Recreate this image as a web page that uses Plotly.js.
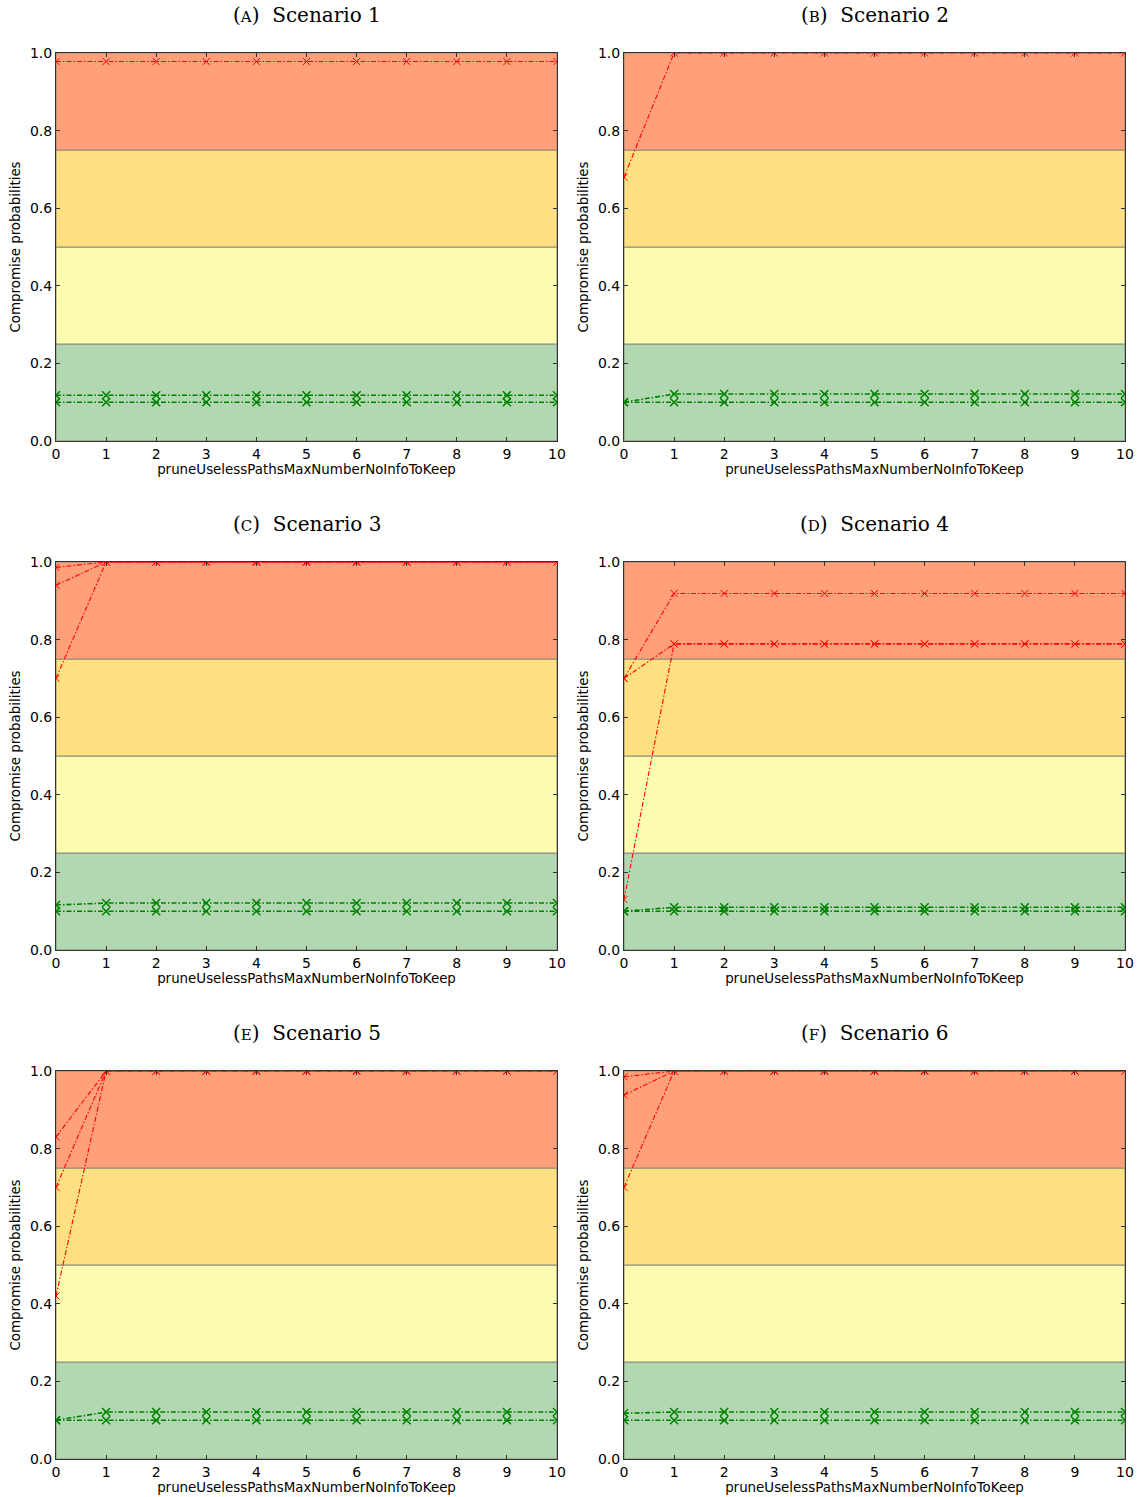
<!DOCTYPE html>
<html>
<head>
<meta charset="utf-8">
<script src="https://cdn.plot.ly/plotly-3.0.1.min.js"></script>
<style>html,body{margin:0;padding:0;background:#fff;}</style>
</head>
<body>
<div id="chart" style="width:1143px;height:1497px;"></div>
<script>
// ---- data ----
const xValues = [0, 1, 2, 3, 4, 5, 6, 7, 8, 9, 10];
const xTickLabels = ["0", "1", "2", "3", "4", "5", "6", "7", "8", "9", "10"];
const yTickValues = [0, 0.2, 0.4, 0.6, 0.8, 1.0];
const yTickLabels = ["0.0", "0.2", "0.4", "0.6", "0.8", "1.0"];
const bandEdges = [0, 0.25, 0.5, 0.75, 1.0];
const bandColors = ["#b2d8b2", "#fcfcb0", "#fee082", "#ffa07a"];
const panelLetters = ["A", "B", "C", "D", "E", "F"];
const panelNames = ["Scenario 1", "Scenario 2", "Scenario 3", "Scenario 4", "Scenario 5", "Scenario 6"];

// Scenario 1
const s1Red1   = [0.978, 0.978, 0.978, 0.978, 0.978, 0.978, 0.978, 0.978, 0.978, 0.978, 0.978];
const s1Green1 = [0.118, 0.118, 0.118, 0.118, 0.118, 0.118, 0.118, 0.118, 0.118, 0.118, 0.118];
const s1Green2 = [0.100, 0.100, 0.100, 0.100, 0.100, 0.100, 0.100, 0.100, 0.100, 0.100, 0.100];
// Scenario 2
const s2Red1   = [0.68, 1.0, 1.0, 1.0, 1.0, 1.0, 1.0, 1.0, 1.0, 1.0, 1.0];
const s2Green1 = [0.100, 0.121, 0.121, 0.121, 0.121, 0.121, 0.121, 0.121, 0.121, 0.121, 0.121];
const s2Green2 = [0.100, 0.100, 0.100, 0.100, 0.100, 0.100, 0.100, 0.100, 0.100, 0.100, 0.100];
// Scenario 3
const s3Red1   = [0.986, 1.0, 1.0, 1.0, 1.0, 1.0, 1.0, 1.0, 1.0, 1.0, 1.0];
const s3Red2   = [0.940, 1.0, 1.0, 1.0, 1.0, 1.0, 1.0, 1.0, 1.0, 1.0, 1.0];
const s3Red3   = [0.700, 1.0, 1.0, 1.0, 1.0, 1.0, 1.0, 1.0, 1.0, 1.0, 1.0];
const s3Green1 = [0.116, 0.121, 0.121, 0.121, 0.121, 0.121, 0.121, 0.121, 0.121, 0.121, 0.121];
const s3Green2 = [0.100, 0.100, 0.100, 0.100, 0.100, 0.100, 0.100, 0.100, 0.100, 0.100, 0.100];
// Scenario 4
const s4Red1   = [0.700, 0.919, 0.919, 0.919, 0.919, 0.919, 0.919, 0.919, 0.919, 0.919, 0.919];
const s4Red2   = [0.700, 0.789, 0.789, 0.789, 0.789, 0.789, 0.789, 0.789, 0.789, 0.789, 0.789];
const s4Red3   = [0.130, 0.789, 0.789, 0.789, 0.789, 0.789, 0.789, 0.789, 0.789, 0.789, 0.789];
const s4Green1 = [0.100, 0.110, 0.110, 0.110, 0.110, 0.110, 0.110, 0.110, 0.110, 0.110, 0.110];
const s4Green2 = [0.100, 0.100, 0.100, 0.100, 0.100, 0.100, 0.100, 0.100, 0.100, 0.100, 0.100];
// Scenario 5
const s5Red1   = [0.830, 1.0, 1.0, 1.0, 1.0, 1.0, 1.0, 1.0, 1.0, 1.0, 1.0];
const s5Red2   = [0.700, 1.0, 1.0, 1.0, 1.0, 1.0, 1.0, 1.0, 1.0, 1.0, 1.0];
const s5Red3   = [0.420, 1.0, 1.0, 1.0, 1.0, 1.0, 1.0, 1.0, 1.0, 1.0, 1.0];
const s5Green1 = [0.100, 0.121, 0.121, 0.121, 0.121, 0.121, 0.121, 0.121, 0.121, 0.121, 0.121];
const s5Green2 = [0.100, 0.100, 0.100, 0.100, 0.100, 0.100, 0.100, 0.100, 0.100, 0.100, 0.100];
// Scenario 6
const s6Red1   = [0.985, 1.0, 1.0, 1.0, 1.0, 1.0, 1.0, 1.0, 1.0, 1.0, 1.0];
const s6Red2   = [0.938, 1.0, 1.0, 1.0, 1.0, 1.0, 1.0, 1.0, 1.0, 1.0, 1.0];
const s6Red3   = [0.700, 1.0, 1.0, 1.0, 1.0, 1.0, 1.0, 1.0, 1.0, 1.0, 1.0];
const s6Green1 = [0.118, 0.121, 0.121, 0.121, 0.121, 0.121, 0.121, 0.121, 0.121, 0.121, 0.121];
const s6Green2 = [0.100, 0.100, 0.100, 0.100, 0.100, 0.100, 0.100, 0.100, 0.100, 0.100, 0.100];

const panelRed = [
  [s1Red1],
  [s2Red1],
  [s3Red1, s3Red2, s3Red3],
  [s4Red1, s4Red2, s4Red3],
  [s5Red1, s5Red2, s5Red3],
  [s6Red1, s6Red2, s6Red3]
];
const panelGreen = [
  [s1Green1, s1Green2],
  [s2Green1, s2Green2],
  [s3Green1, s3Green2],
  [s4Green1, s4Green2],
  [s5Green1, s5Green2],
  [s6Green1, s6Green2]
];

// ---- layout geometry ----
const W = 1143, H = 1497;
const colPx = [[56, 557], [624, 1125]];
const rowPx = [[53, 441], [562, 950], [1071, 1459]];
const titlePx = [15, 524, 1033];

const traces = [];
const layout = {
  width: W, height: H,
  margin: {l: 0, r: 0, t: 0, b: 0, autoexpand: false},
  paper_bgcolor: "#ffffff",
  plot_bgcolor: "#ffffff",
  showlegend: false,
  shapes: [],
  annotations: []
};

const axisFont = {family: "DejaVu Sans, sans-serif", size: 14, color: "#000"};
const titleFont = {family: "DejaVu Sans, sans-serif", size: 13.4, color: "#000"};
const dashPattern = "5px,2px,1.5px,2px";

for (let p = 0; p < 6; p++) {
  const row = Math.floor(p / 2), col = p % 2;
  const n = p + 1;
  const xa = "x" + (n === 1 ? "" : n), ya = "y" + (n === 1 ? "" : n);
  const xKey = "xaxis" + (n === 1 ? "" : n), yKey = "yaxis" + (n === 1 ? "" : n);
  layout[xKey] = {
    domain: [colPx[col][0] / W, colPx[col][1] / W],
    anchor: ya,
    range: [0, 10],
    tickvals: xValues, ticktext: xTickLabels,
    ticks: "inside", ticklen: 4, tickwidth: 1, tickcolor: "#333",
    showline: true, mirror: "ticks", linecolor: "#333", linewidth: 1,
    showgrid: false, zeroline: false,
    tickfont: axisFont,
    title: {text: "pruneUselessPathsMaxNumberNoInfoToKeep", font: titleFont, standoff: 1}
  };
  layout[yKey] = {
    domain: [1 - rowPx[row][1] / H, 1 - rowPx[row][0] / H],
    anchor: xa,
    range: [0, 1],
    tickvals: yTickValues, ticktext: yTickLabels,
    ticks: "inside", ticklen: 4, tickwidth: 1, tickcolor: "#333",
    showline: true, mirror: "ticks", linecolor: "#333", linewidth: 1,
    showgrid: false, zeroline: false,
    tickfont: axisFont,
    title: {text: "Compromise probabilities", font: titleFont, standoff: 6}
  };
  for (let b = 0; b < bandColors.length; b++) {
    layout.shapes.push({
      type: "rect", xref: xa, yref: ya, layer: "below",
      x0: xValues[0], x1: xValues[xValues.length - 1], y0: bandEdges[b], y1: bandEdges[b + 1],
      fillcolor: bandColors[b], line: {color: "#8a8a7a", width: 1}
    });
  }
  layout.annotations.push({
    xref: "paper", yref: "paper",
    x: (colPx[col][0] + colPx[col][1]) / 2 / W,
    y: 1 - titlePx[row] / H,
    xanchor: "center", yanchor: "middle", showarrow: false,
    text: "(<span style='font-size:15px'>" + panelLetters[p] + "</span>)  " + panelNames[p],
    font: {family: "DejaVu Serif, Liberation Serif, serif", size: 20, color: "#000"}
  });
  panelGreen[p].forEach(vals => {
    traces.push({
      type: "scatter", mode: "lines+markers", x: xValues, y: vals, xaxis: xa, yaxis: ya,
      line: {color: "#008000", width: 1.6, dash: dashPattern},
      marker: {symbol: "x-thin-open", size: 8, line: {color: "#008000", width: 1.5}},
      cliponaxis: true
    });
  });
  panelRed[p].forEach(vals => {
    traces.push({
      type: "scatter", mode: "lines+markers", x: xValues, y: vals, xaxis: xa, yaxis: ya,
      line: {color: "#ff0000", width: 1.1, dash: dashPattern},
      marker: {symbol: "x-thin-open", size: 7, line: {color: "#ff0000", width: 1}},
      cliponaxis: true
    });
  });
}

Plotly.newPlot("chart", traces, layout, {staticPlot: true, displayModeBar: false});
</script>
</body>
</html>
